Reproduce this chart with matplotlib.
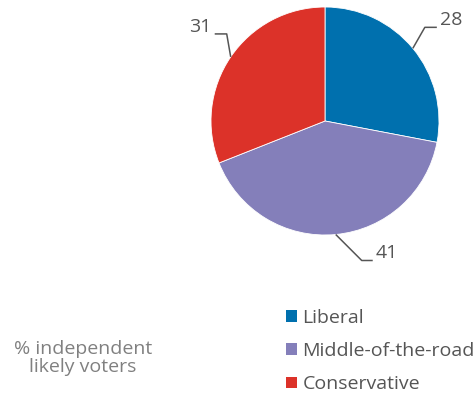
import numpy as np
import matplotlib.pyplot as plt
from matplotlib.patches import Patch

labels = ['Liberal', 'Middle-of-the-road', 'Conservative']
values = [28, 41, 31]
colors = ['#0070AE', '#847FBA', '#DC3229']
note = '% independent\nlikely voters'

plt.rcParams['font.family'] = ['Open Sans', 'DejaVu Sans']

W, H = 477, 398
fig = plt.figure(figsize=(W / 100, H / 100), dpi=100)
ax = fig.add_axes([0, 0, 1, 1])

cx, cy, r = 325, H - 121, 114
wedges, _ = ax.pie(values, colors=colors, startangle=90, counterclock=False,
                   center=(cx, cy), radius=r, frame=True,
                   wedgeprops=dict(linewidth=0.6, edgecolor='white'))
ax.set_xlim(0, W)
ax.set_ylim(0, H)
ax.set_aspect('equal')
ax.axis('off')

# leader lines: (elbow dx, elbow dy, horizontal length) relative to wedge edge
leaders = [(12, 21, 12), (26, -26, 11), (-4, 23, -12)]
for w, v, (ex, ey, hl) in zip(wedges, values, leaders):
    ang = np.deg2rad((w.theta1 + w.theta2) / 2)
    x0, y0 = cx + r * np.cos(ang), cy + r * np.sin(ang)
    x1, y1 = x0 + ex, y0 + ey
    x2 = x1 + hl
    ax.plot([x0, x1, x2], [y0, y1, y1], color='#555555', lw=1.1,
            solid_capstyle='butt')
    ha = 'left' if hl > 0 else 'right'
    ax.text(x2 + (3 if hl > 0 else -3), y1 + 7, str(v), ha=ha, va='center',
            fontsize=14, color='#555555')

handles = [Patch(facecolor=c, edgecolor='none') for c in colors]
ax.legend(handles, labels, loc='upper left', bbox_to_anchor=(286 / W, 1 - 309 / H),
          frameon=False, labelcolor='#555555', prop=dict(size=14),
          handlelength=0.55, handleheight=0.55, handletextpad=0.3,
          labelspacing=0.78, borderaxespad=0, borderpad=0)

ax.text(83, H - 358, note, ha='center', va='center', fontsize=14,
        color='#808080', linespacing=1.0)

fig.savefig('out.png', dpi=100)
